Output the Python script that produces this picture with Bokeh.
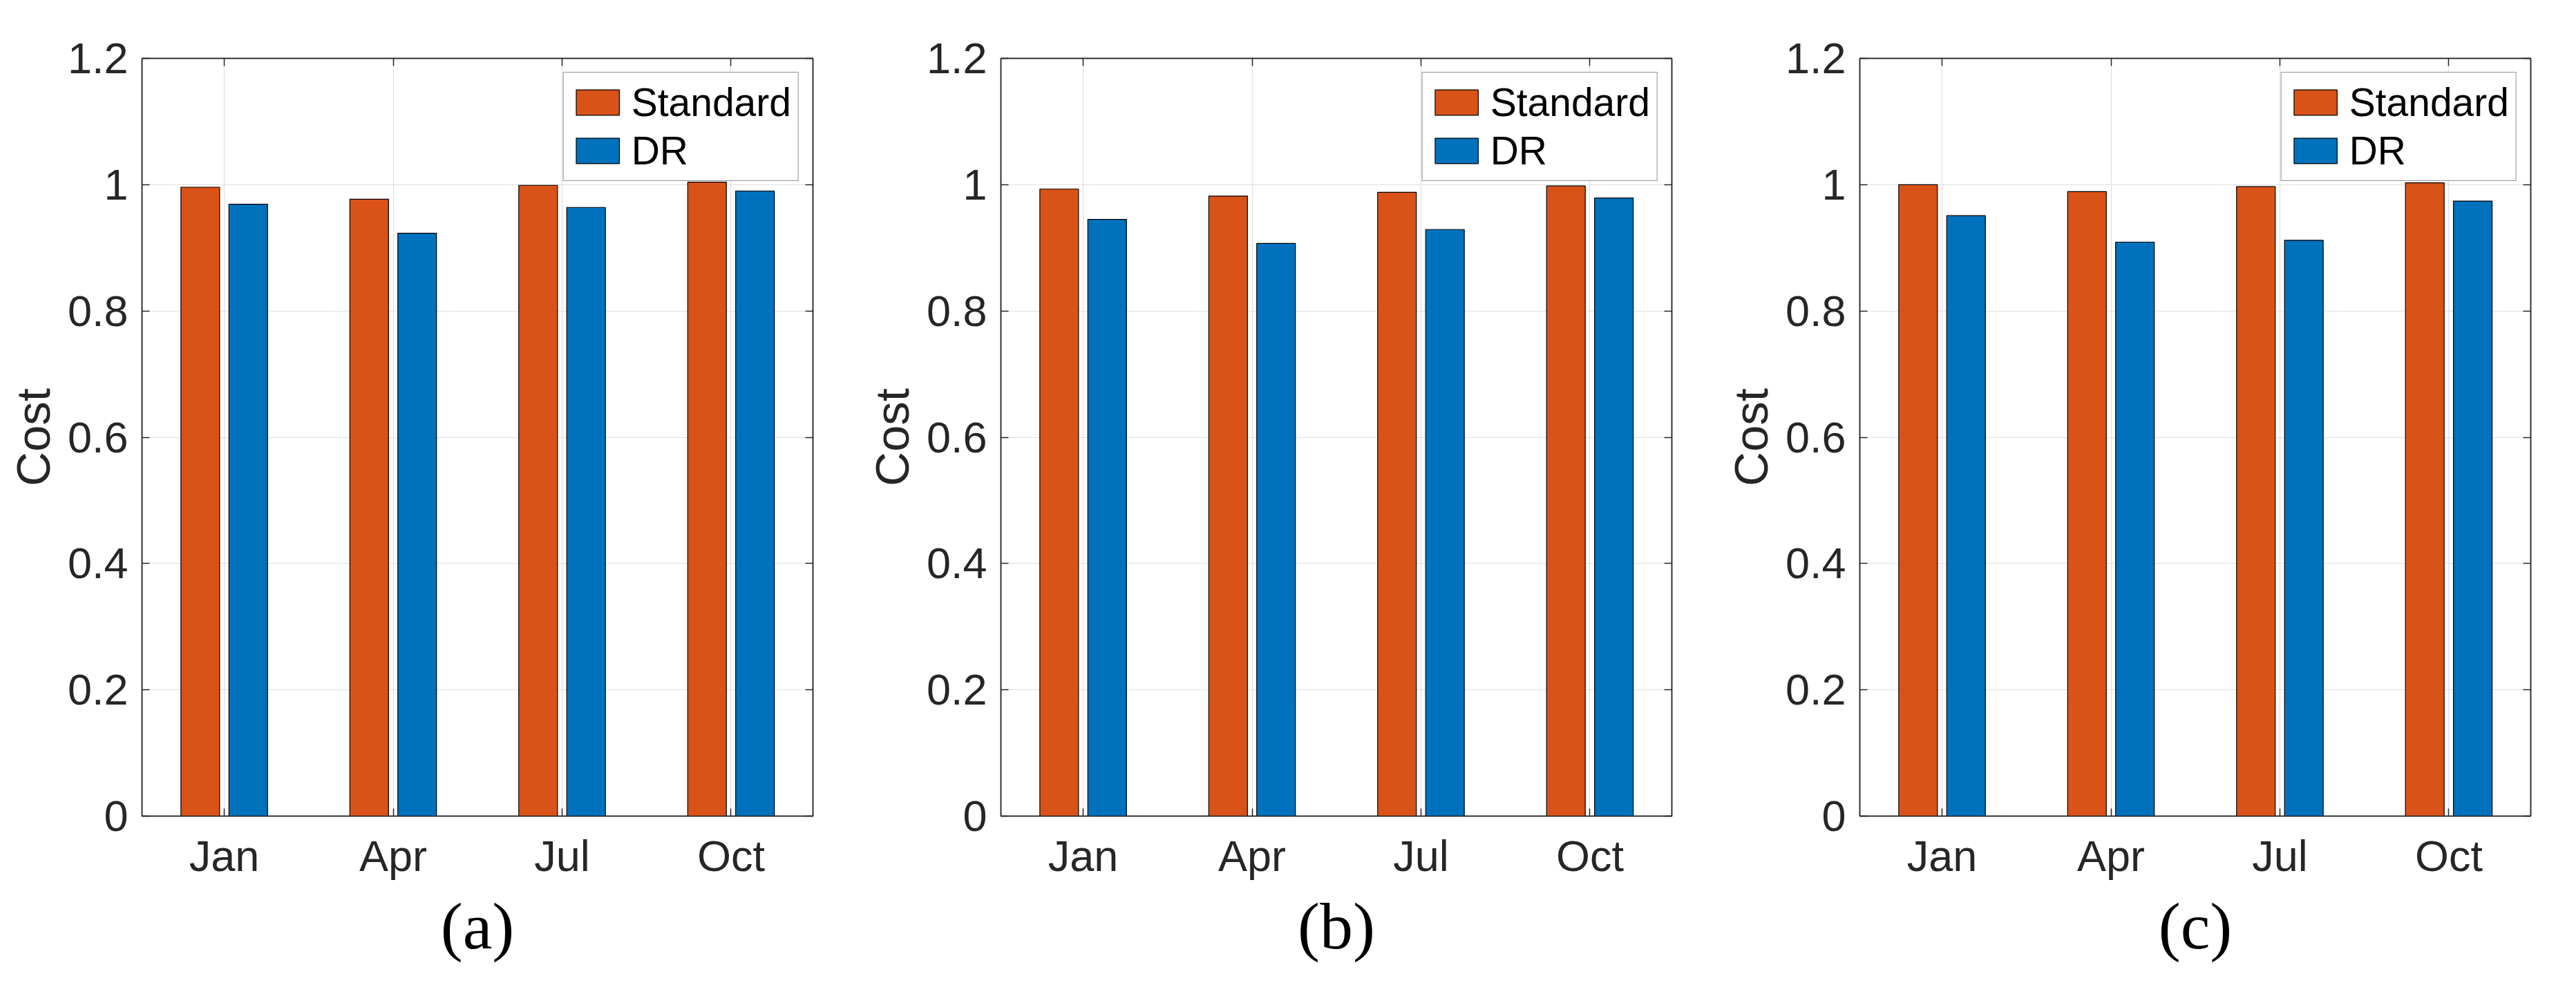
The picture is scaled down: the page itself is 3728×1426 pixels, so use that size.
from bokeh.plotting import figure
from bokeh.models import (Range1d, FixedTicker, LinearAxis, Legend, LegendItem,
                          ColumnDataSource)
from bokeh.transform import dodge
from bokeh.layouts import row
from bokeh.embed import file_html
from bokeh.resources import INLINE

# ---------------- data ----------------
months = ["Jan", "Apr", "Jul", "Oct"]
series_names = ["Standard", "DR"]
panel_labels = ["(a)", "(b)", "(c)"]

a_standard = [0.996, 0.977, 0.999, 1.004]
a_dr = [0.969, 0.923, 0.964, 0.990]
b_standard = [0.993, 0.982, 0.988, 0.998]
b_dr = [0.945, 0.907, 0.929, 0.979]
c_standard = [1.000, 0.989, 0.997, 1.003]
c_dr = [0.951, 0.909, 0.912, 0.974]

y_ticks = [0, 0.2, 0.4, 0.6, 0.8, 1.0, 1.2]
y_tick_labels = ["0", "0.2", "0.4", "0.6", "0.8", "1", "1.2"]

# ---------------- style ----------------
ORANGE = "#D95319"
BLUE = "#0072BD"
AX = "#262626"
GRID = "#dfdfdf"
SANS = "Liberation Sans"
SERIF = "Liberation Serif"

x_pos = list(range(1, len(months) + 1))


def make_panel(std_vals, dr_vals, label, border_right):
    src = ColumnDataSource(dict(x=x_pos, std=std_vals, dr=dr_vals))
    p = figure(frame_width=971, frame_height=1097,
               x_range=Range1d(0.513, 4.485), y_range=Range1d(0, 1.2),
               output_backend="svg", toolbar_location=None,
               min_border_left=205, min_border_right=border_right,
               min_border_top=84, min_border_bottom=200,
               background_fill_color="white", border_fill_color="white")
    p.outline_line_color = AX
    p.outline_line_width = 1.5

    r1 = p.vbar(x=dodge("x", -0.142, range=p.x_range), top="std", width=0.229,
                source=src, fill_color=ORANGE, line_color="black", line_width=1.2)
    r2 = p.vbar(x=dodge("x", 0.142, range=p.x_range), top="dr", width=0.229,
                source=src, fill_color=BLUE, line_color="black", line_width=1.2)

    xt = FixedTicker(ticks=x_pos)
    yt = FixedTicker(ticks=y_ticks)

    xa = p.xaxis[0]
    xa.ticker = xt
    xa.major_label_overrides = {x: m for x, m in zip(x_pos, months)}
    ya = p.yaxis[0]
    ya.ticker = yt
    ya.major_label_overrides = {t: s for t, s in zip(y_ticks, y_tick_labels)}

    for ax in (xa, ya):
        ax.axis_line_color = AX
        ax.axis_line_width = 1.5
        ax.major_tick_line_color = AX
        ax.major_tick_line_width = 1.5
        ax.major_tick_in = 11
        ax.major_tick_out = 0
        ax.minor_tick_line_color = None
        ax.major_label_text_font = SANS
        ax.major_label_text_font_size = "63px"
        ax.major_label_text_color = AX

    xa.major_label_standoff = 22
    ya.major_label_standoff = 20

    ya.axis_label = "Cost"
    ya.axis_label_text_font = SANS
    ya.axis_label_text_font_size = "69px"
    ya.axis_label_text_font_style = "normal"
    ya.axis_label_text_color = AX
    ya.axis_label_standoff = 8

    xa.axis_label = label
    xa.axis_label_text_font = SERIF
    xa.axis_label_text_font_size = "96px"
    xa.axis_label_text_font_style = "normal"
    xa.axis_label_text_color = "black"
    xa.axis_label_standoff = 10

    # mirrored tick marks on top and right (box on)
    top = LinearAxis(ticker=xt, major_label_overrides={x: "" for x in x_pos})
    right = LinearAxis(ticker=yt, major_label_overrides={t: "" for t in y_ticks})
    for ax in (top, right):
        ax.axis_line_color = AX
        ax.axis_line_width = 1.5
        ax.major_tick_line_color = AX
        ax.major_tick_line_width = 1.5
        ax.major_tick_in = 11
        ax.major_tick_out = 0
        ax.minor_tick_line_color = None
        ax.major_label_text_font_size = "0px"
        ax.major_label_standoff = 0
    p.add_layout(top, "above")
    p.add_layout(right, "right")

    p.xgrid.ticker = xt
    p.ygrid.ticker = yt
    for g in (p.xgrid[0], p.ygrid[0]):
        g.grid_line_color = GRID
        g.grid_line_width = 1.2

    legend = Legend(items=[LegendItem(label=series_names[0], renderers=[r1]),
                           LegendItem(label=series_names[1], renderers=[r2])],
                    location="top_right", margin=20, padding=10, spacing=4,
                    glyph_width=78, glyph_height=46, label_standoff=10,
                    label_text_font=SANS, label_text_font_size="57px",
                    label_text_color="black",
                    border_line_color=AX, border_line_width=1.5,
                    background_fill_color="white", background_fill_alpha=1.0)
    p.add_layout(legend)
    return p


pa = make_panel(a_standard, a_dr, panel_labels[0], 67)
pb = make_panel(b_standard, b_dr, panel_labels[1], 67)
pc = make_panel(c_standard, c_dr, panel_labels[2], 40)

layout = row(pa, pb, pc, spacing=0)

with open("out.html", "w") as f:
    f.write(file_html(layout, INLINE))
